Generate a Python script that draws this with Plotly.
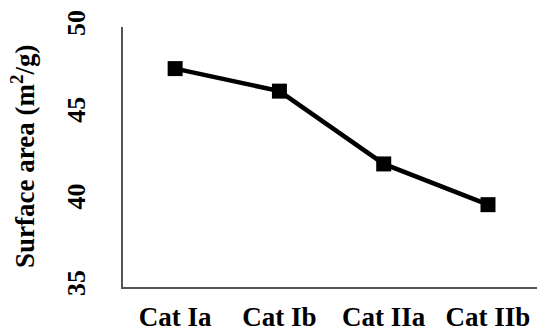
import plotly.graph_objects as go

categories = ["Cat Ia", "Cat Ib", "Cat IIa", "Cat IIb"]
surface_area = [47.6, 46.3, 42.1, 39.75]
y_ticks = [35, 40, 45, 50]

font_family = "Liberation Serif, Times New Roman, serif"

fig = go.Figure()
fig.add_trace(go.Scatter(
    x=list(range(len(categories))), y=surface_area,
    mode="lines+markers",
    line=dict(color="black", width=4.5),
    marker=dict(symbol="square", size=15, color="black"),
    showlegend=False,
))

fig.update_layout(
    width=537, height=328,
    margin=dict(l=123, r=0, t=27, b=41, autoexpand=False),
    paper_bgcolor="white", plot_bgcolor="white",
    xaxis=dict(
        range=[-0.5, 3.47], automargin=False,
        tickmode="array", tickvals=list(range(len(categories))), ticktext=categories,
        showgrid=False, zeroline=False,
        showline=True, linecolor="#555555", linewidth=1.5,
        ticks="", ticklabelstandoff=5,
        tickfont=dict(family=font_family, size=27, color="black", weight="bold"),
    ),
    yaxis=dict(
        range=[35, 50], automargin=False,
        tickmode="array", tickvals=y_ticks, ticktext=[str(v) for v in y_ticks],
        tickangle=-90,
        showgrid=False, zeroline=False,
        showline=True, linecolor="#555555", linewidth=1.5,
        ticks="", ticklabelstandoff=26,
        tickfont=dict(family=font_family, size=26, color="black", weight="bold"),
    ),
    annotations=[dict(
        text="Surface area (m<sup>2</sup>/g)",
        xref="paper", yref="paper", x=0, y=0.5,
        xanchor="center", yanchor="middle", xshift=-100,
        textangle=-90, showarrow=False,
        font=dict(family=font_family, size=27, color="black", weight="bold"),
    )],
)

fig.write_html("out.html", config={"displayModeBar": False},
               post_script="document.body.style.margin='0';")
